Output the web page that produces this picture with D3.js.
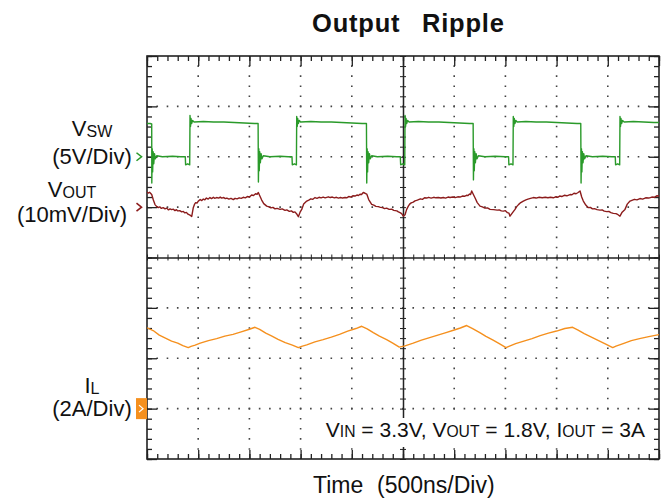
<!DOCTYPE html>
<html>
<head>
<meta charset="utf-8">
<script src="https://cdn.jsdelivr.net/npm/d3@7"></script>
<style>
	body { margin: 0; background: #ffffff; }
	text { font-family: "Liberation Sans", Arial, Helvetica, sans-serif; fill: #111111; }
</style>
</head>
<body>
<div id="chart"></div>
<script>
// Scope screen: 10 divisions of 500 ns across, 8 divisions up/down
var timeDomain = [0, 5000];
var divDomain = [-4, 4];
var xMinorTicks = d3.range(0, 5001, 100);
var xMajorTicks = d3.range(0, 5001, 500);
var yMinorTicks = d3.range(-20, 21).map(function(d){ return d / 5; });
var yMajorTicks = d3.range(-4, 5);

// Channel scaling: units per division, and ground marker in divisions from centre
var vswPerDiv = 5, vswRef = 2;		// V
var voutPerDiv = 10, voutRef = 1;	// mV (AC coupled)
var ilPerDiv = 2, ilRef = -3;		// A

// Switch node, [time ns, volts]
var vswPoints = [
	[0,3.3],[30,3.3],[46,3.25],
	[47,-2.6],[51,0.8],[55,-1.5],[60,0.5],[66,-0.7],[73,0.3],[82,-0.2],[95,0.1],[150,0.0],[250,0.05],[330,0.0],[374,0.0],[377,-0.8],[398,-0.7],[417,-0.8],
	[420,4.1],[425,3.0],[430,3.8],[436,3.3],[445,3.6],[460,3.45],[550,3.5],[650,3.45],[750,3.45],[850,3.4],[950,3.35],[1050,3.3],[1085,3.3],
	[1088,-2.5],[1092,0.8],[1096,-1.4],[1101,0.5],[1107,-0.6],[1114,0.3],[1123,-0.2],[1136,0.1],[1200,0.0],[1300,0.05],[1380,0.0],[1416,0.0],[1419,-0.8],[1440,-0.7],[1459,-0.8],
	[1462,4.0],[1467,3.0],[1472,3.8],[1478,3.3],[1487,3.6],[1500,3.45],[1600,3.5],[1700,3.45],[1800,3.45],[1900,3.4],[2000,3.35],[2100,3.3],[2143,3.3],
	[2146,-2.6],[2150,0.8],[2154,-1.5],[2159,0.5],[2165,-0.6],[2172,0.3],[2181,-0.2],[2194,0.1],[2250,0.0],[2350,0.05],[2440,0.0],[2474,0.0],[2477,-0.8],[2498,-0.7],[2517,-0.8],
	[2520,4.1],[2525,3.0],[2530,3.8],[2536,3.3],[2545,3.6],[2560,3.45],[2650,3.5],[2750,3.45],[2850,3.45],[2950,3.4],[3050,3.35],[3150,3.3],[3185,3.3],
	[3188,-2.3],[3192,0.8],[3196,-1.4],[3201,0.5],[3207,-0.6],[3214,0.3],[3223,-0.2],[3236,0.1],[3300,0.0],[3400,0.05],[3500,0.0],[3531,0.0],[3534,-0.8],[3555,-0.7],[3574,-0.8],
	[3577,4.0],[3582,3.0],[3587,3.8],[3593,3.3],[3602,3.6],[3615,3.45],[3700,3.5],[3800,3.45],[3900,3.45],[4000,3.4],[4100,3.35],[4200,3.3],[4236,3.3],
	[4239,-2.6],[4243,0.8],[4247,-1.5],[4252,0.5],[4258,-0.6],[4265,0.3],[4274,-0.2],[4287,0.1],[4350,0.0],[4450,0.05],[4540,0.0],[4573,0.0],[4576,-0.8],[4597,-0.7],[4616,-0.8],
	[4619,4.0],[4624,3.0],[4629,3.8],[4635,3.3],[4644,3.6],[4660,3.45],[4750,3.5],[4850,3.45],[4950,3.4],[5000,3.4]
];

// Output ripple, [time ns, mV]
var voutPoints = [
	[0,3.0],[12,2.8],[25,2.95],[46,2.5],[62,1.4],[78,0.5],[95,0.1],[110,-0.1],[125,0.05],[140,-0.25],[158,-0.1],[176,-0.35],[193,-0.2],[210,-0.55],[225,-0.35],[240,-0.5],[258,-0.4],[273,-0.7],[288,-0.5],[300,-0.75],[320,-0.7],[339,-0.95],[355,-0.85],[370,-1.15],[385,-1.05],[400,-1.4],[420,-1.6],[437,-1.85],
	[452,-0.1],[465,0.6],[475,0.9],[488,0.8],[501,1.2],[520,1.5],[535,1.3],[550,1.6],[565,1.45],[580,1.8],[598,1.6],[615,1.9],[630,1.7],[648,1.95],[660,1.75],[680,1.9],[700,1.8],[715,2.0],[730,1.8],[750,1.9],[765,1.7],[780,1.8],[800,1.6],[820,1.75],[843,1.5],[860,1.75],[880,1.65],[900,1.85],[920,1.75],[940,1.95],[960,1.85],[980,2.1],[1000,2.0],[1022,2.4],[1040,2.3],[1060,2.65],[1075,2.55],[1087,2.9],
	[1100,2.3],[1120,1.4],[1140,0.7],[1169,0.2],[1185,0.1],[1210,-0.15],[1230,-0.05],[1250,-0.35],[1270,-0.25],[1300,-0.45],[1320,-0.35],[1348,-0.65],[1365,-0.55],[1390,-0.85],[1410,-0.75],[1429,-1.05],[1445,-0.95],[1460,-1.3],[1478,-1.9],
	[1495,-1.0],[1511,-0.45],[1530,0.6],[1545,0.9],[1560,1.2],[1580,1.4],[1600,1.65],[1620,1.55],[1641,1.9],[1660,1.75],[1680,1.95],[1700,1.85],[1720,2.0],[1740,1.85],[1771,2.05],[1790,1.9],[1810,2.0],[1830,1.85],[1850,1.95],[1870,1.8],[1890,1.9],[1910,1.8],[1934,1.9],[1950,1.85],[1970,2.1],[1990,2.0],[2010,2.25],[2031,2.2],[2050,2.4],[2065,2.3],[2080,2.55],[2095,2.5],[2112,2.9],[2130,2.75],
	[2146,2.6],[2165,1.5],[2194,0.55],[2215,0.4],[2235,0.15],[2259,0.1],[2280,-0.05],[2300,-0.1],[2320,-0.3],[2340,-0.2],[2365,-0.45],[2390,-0.4],[2410,-0.65],[2440,-0.75],[2455,-0.95],[2471,-1.1],[2487,-1.3],[2503,-1.8],
	[2520,-1.5],[2535,-0.5],[2552,0.2],[2565,0.6],[2580,0.85],[2600,1.0],[2617,1.25],[2640,1.4],[2670,1.65],[2690,1.55],[2710,1.85],[2731,1.8],[2750,1.95],[2775,1.8],[2800,1.95],[2820,1.85],[2845,1.9],[2870,1.8],[2894,1.9],[2915,1.8],[2940,2.0],[2960,1.9],[2985,2.0],[3010,1.9],[3035,2.05],[3057,2.0],[3080,2.2],[3100,2.15],[3120,2.35],[3135,2.3],[3150,2.6],[3160,2.5],[3171,3.2],
	[3185,2.6],[3203,1.85],[3225,0.9],[3252,0.2],[3275,0.05],[3300,-0.2],[3325,-0.15],[3350,-0.45],[3385,-0.5],[3420,-0.6],[3440,-0.55],[3460,-0.75],[3480,-0.8],[3500,-0.7],[3520,-1.1],[3535,-1.2],[3545,-1.8],
	[3570,-1.1],[3594,-0.45],[3610,0.1],[3630,0.55],[3650,0.9],[3675,1.2],[3700,1.45],[3720,1.6],[3745,1.75],[3773,1.9],[3800,1.8],[3830,1.95],[3860,1.85],[3890,1.95],[3915,1.85],[3940,1.95],[3968,1.85],[3990,2.05],[4010,1.95],[4030,2.2],[4050,2.1],[4075,2.35],[4100,2.25],[4131,2.5],[4150,2.45],[4170,2.75],[4190,2.65],[4210,2.9],[4229,3.2],
	[4245,2.0],[4261,1.2],[4285,0.4],[4310,-0.1],[4330,-0.05],[4350,-0.35],[4370,-0.3],[4395,-0.5],[4424,-0.6],[4445,-0.55],[4465,-0.8],[4490,-0.9],[4510,-0.85],[4530,-1.1],[4554,-1.25],[4580,-1.3],[4600,-1.5],[4619,-1.8],
	[4640,-1.0],[4668,-0.45],[4690,0.6],[4717,1.2],[4735,1.35],[4760,1.55],[4785,1.45],[4814,1.7],[4840,1.6],[4870,1.85],[4900,1.8],[4930,2.0],[4955,1.95],[4978,2.25],[5000,2.2]
];

// Inductor current, [time ns, A]
var ilPoints = [
	[0,3.21],[60,3.1],[120,2.92],[180,2.8],[240,2.68],[300,2.6],[350,2.5],[403,2.42],
	[430,2.47],[470,2.52],[520,2.6],[600,2.7],[680,2.78],[760,2.88],[840,2.95],[920,3.05],[1000,3.15],[1055,3.23],
	[1100,3.15],[1160,3.0],[1220,2.88],[1280,2.75],[1350,2.62],[1420,2.52],[1478,2.42],
	[1510,2.47],[1560,2.53],[1640,2.65],[1720,2.74],[1800,2.84],[1880,2.95],[1960,3.08],[2040,3.18],[2097,3.27],
	[2150,3.17],[2210,3.02],[2270,2.88],[2340,2.74],[2400,2.6],[2464,2.44],
	[2520,2.49],[2600,2.6],[2680,2.72],[2760,2.82],[2840,2.92],[2920,3.02],[3000,3.12],[3060,3.2],[3122,3.3],
	[3180,3.18],[3250,3.02],[3310,2.87],[3380,2.72],[3440,2.58],[3506,2.42],
	[3540,2.48],[3600,2.58],[3680,2.68],[3760,2.78],[3840,2.9],[3920,3.0],[4000,3.08],[4080,3.18],[4157,3.23],
	[4210,3.12],[4270,2.98],[4340,2.84],[4410,2.7],[4480,2.56],[4548,2.42],
	[4580,2.48],[4650,2.58],[4730,2.7],[4810,2.78],[4900,2.86],[5000,2.94]
];

var W = 672, H = 502;
var plot = {left:147, right:659, top:56, bottom:459};
var frameColor = "#222222";

var svg = d3.select("#chart").append("svg").attr("width",W).attr("height",H);

var x = d3.scaleLinear().domain(timeDomain).range([plot.left, plot.right]);
var y = d3.scaleLinear().domain(divDomain).range([plot.bottom, plot.top]);

svg.append("clipPath").attr("id","plotClip")
	.append("rect")
	.attr("x",plot.left).attr("y",plot.top)
	.attr("width",plot.right - plot.left).attr("height",plot.bottom - plot.top);

// dotted graticule, a dot at every minor division
var grid = svg.append("g").attr("class","grid");
var xStep = x(100) - x(0), yStep = y(0) - y(0.2);
grid.selectAll("line.gx")
	.data(xMajorTicks.filter(function(d){ return d > 0 && d < 5000 && d != 2500; }))
	.enter().append("line")
	.attr("x1",function(d){ return x(d); }).attr("x2",function(d){ return x(d); })
	.attr("y1",plot.top).attr("y2",plot.bottom)
	.attr("stroke","#444").attr("stroke-width",1.6)
	.attr("stroke-dasharray","1.6," + (yStep - 1.6)).attr("stroke-dashoffset",0.8);
grid.selectAll("line.gy")
	.data(yMajorTicks.filter(function(d){ return d > -4 && d < 4 && d != 0; }))
	.enter().append("line")
	.attr("y1",function(d){ return y(d); }).attr("y2",function(d){ return y(d); })
	.attr("x1",plot.left).attr("x2",plot.right)
	.attr("stroke","#444").attr("stroke-width",1.6)
	.attr("stroke-dasharray","1.6," + (xStep - 1.6)).attr("stroke-dashoffset",0.8);

// ticks on the frame, pointing inwards
function frameAxis(axis, values, size, transform){
	var g = svg.append("g")
		.attr("transform",transform)
		.call(axis.tickValues(values).tickSize(size).tickFormat(""));
	g.select(".domain").remove();
	g.selectAll(".tick line").attr("stroke",frameColor).attr("stroke-width",1.3);
	return g;
}
frameAxis(d3.axisTop(x), xMinorTicks, -5, "translate(0," + plot.top + ")");
frameAxis(d3.axisTop(x), xMajorTicks, -10, "translate(0," + plot.top + ")");
frameAxis(d3.axisBottom(x), xMinorTicks, -5, "translate(0," + plot.bottom + ")");
frameAxis(d3.axisBottom(x), xMajorTicks, -9, "translate(0," + plot.bottom + ")");
frameAxis(d3.axisLeft(y), yMinorTicks, -5, "translate(" + plot.left + ",0)");
frameAxis(d3.axisLeft(y), yMajorTicks, -10, "translate(" + plot.left + ",0)");
frameAxis(d3.axisRight(y), yMinorTicks, -5, "translate(" + plot.right + ",0)");
frameAxis(d3.axisRight(y), yMajorTicks, -10, "translate(" + plot.right + ",0)");

// centre cross with ticks either side
var cx = svg.append("g").attr("transform","translate(0," + y(0) + ")")
	.call(d3.axisBottom(x).tickValues(xMinorTicks).tickSizeOuter(0).tickFormat(""));
cx.selectAll(".tick line").attr("y1",-3).attr("y2",3);
var cy = svg.append("g").attr("transform","translate(" + x(2500) + ",0)")
	.call(d3.axisLeft(y).tickValues(yMinorTicks).tickSizeOuter(0).tickFormat(""));
cy.selectAll(".tick line").attr("x1",-3).attr("x2",3);
svg.selectAll(".domain").attr("stroke",frameColor).attr("stroke-width",1.5);
svg.selectAll(".tick line").attr("stroke",frameColor);

svg.append("rect")
	.attr("x",plot.left).attr("y",plot.top)
	.attr("width",plot.right - plot.left).attr("height",plot.bottom - plot.top)
	.attr("fill","none").attr("stroke",frameColor).attr("stroke-width",1.6);

// traces
function drawTrace(points, perDiv, ref, color){
	var line = d3.line()
		.x(function(d){ return x(d[0]); })
		.y(function(d){ return y(ref + d[1] / perDiv); });
	svg.append("path")
		.datum(points)
		.attr("clip-path","url(#plotClip)")
		.attr("d",line)
		.attr("fill","none")
		.attr("stroke",color)
		.attr("stroke-width",1.4)
		.attr("stroke-linejoin","round");
}
drawTrace(vswPoints, vswPerDiv, vswRef, "#2a9a2a");
drawTrace(voutPoints, voutPerDiv, voutRef, "#8c1c1c");
drawTrace(ilPoints, ilPerDiv, ilRef, "#f5901e");

// ground reference markers
function chevron(yPos, color){
	svg.append("path")
		.attr("d","M136.5," + (yPos - 4) + "L141.5," + yPos + "L136.5," + (yPos + 4))
		.attr("fill","none").attr("stroke",color).attr("stroke-width",1.6);
}
chevron(y(vswRef), "#2a9a2a");
chevron(y(voutRef), "#8c1c1c");
svg.append("rect")
	.attr("x",136).attr("y",y(ilRef) - 10.5)
	.attr("width",11).attr("height",21)
	.attr("fill","#f5901e");
svg.append("path")
	.attr("d","M139," + (y(ilRef) - 3.5) + "L143," + y(ilRef) + "L139," + (y(ilRef) + 3.5))
	.attr("fill","none").attr("stroke","#ffffff").attr("stroke-width",1.3);

// channel labels
function label(xc, yBase, main, sub){
	var t = svg.append("text").attr("x",xc).attr("y",yBase)
		.attr("text-anchor","middle").attr("font-size",22);
	t.append("tspan").text(main);
	if(sub){ t.append("tspan").attr("font-size",16).attr("dy",1).text(sub); }
}
label(92, 136, "V", "SW");
label(92, 164, "(5V/Div)");
label(72, 197, "V", "OUT");
label(72, 222, "(10mV/Div)");
label(92, 393, "I", "L");
label(92, 416, "(2A/Div)");

// title
var title = svg.append("text").attr("y",32).attr("font-size",25.5).attr("font-weight","bold").attr("letter-spacing",0.8);
title.append("tspan").attr("x",312).text("Output");
title.append("tspan").attr("x",422).text("Ripple");

// time axis label
var tl = svg.append("text").attr("y",493).attr("font-size",23);
tl.append("tspan").attr("x",313).text("Time");
tl.append("tspan").attr("x",377).text("(500ns/Div)");

// test conditions, on a white patch that hides the graticule behind it
svg.append("rect")
	.attr("x",329).attr("y",418).attr("width",322).attr("height",29)
	.attr("fill","#ffffff");
var cond = svg.append("text").attr("x",645).attr("y",437).attr("text-anchor","end").attr("font-size",21);
cond.append("tspan").text("V");
cond.append("tspan").attr("font-size",15.7).text("IN");
cond.append("tspan").text(" = 3.3V, V");
cond.append("tspan").attr("font-size",15.7).text("OUT");
cond.append("tspan").text(" = 1.8V, I");
cond.append("tspan").attr("font-size",15.7).text("OUT");
cond.append("tspan").text(" = 3A");
</script>
</body>
</html>
